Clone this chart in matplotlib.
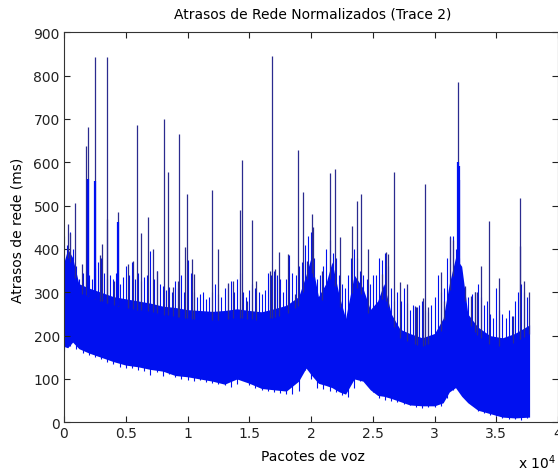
import numpy as np
import matplotlib.pyplot as plt

# envelope of the dense band: packet index, bottom and top (ms)
band_x = [0, 300, 700, 1200, 2000, 3000, 4000, 5000, 6000, 7000, 8000,
          9000, 10000, 11000, 12000, 13000, 14000, 15000, 16000, 17000,
          18000, 19000, 19600, 20000, 20600, 21200, 21700, 22300, 22800,
          23500, 24200, 24800, 25400, 25900, 26500, 27200, 28000, 29000,
          30000, 30700, 31200, 31700, 32200, 32700, 33500, 34500, 35500,
          36500, 37700]
band_lo = [175, 172, 185, 170, 160, 150, 140, 132, 128, 122, 118,
           108, 105, 100, 95, 88, 100, 90, 78, 75,
           72, 95, 125, 110, 90, 85, 80, 70, 65,
           100, 95, 75, 62, 60, 55, 48, 40, 38,
           38, 45, 70, 80, 60, 45, 28, 20, 12,
           10, 12]
band_hi = [370, 400, 380, 320, 310, 300, 290, 285, 280, 275, 268,
           265, 260, 258, 256, 258, 262, 258, 255, 262,
           270, 290, 340, 380, 290, 320, 370, 290, 240,
           340, 310, 260, 280, 320, 250, 215, 205, 195,
           205, 240, 320, 380, 360, 250, 220, 200, 195,
           205, 225]

# ragged top of the band, one value every 250 packets
top_x = np.arange(0, 37501, 250)
top_y = [430, 410, 440, 400, 360, 330, 345, 350, 340, 330, 355, 370,
         380, 345, 330, 340, 330, 345, 320, 335, 360, 340, 370, 330,
         345, 325, 335, 340, 395, 330, 350, 320, 315, 305, 312, 300,
         325, 310, 340, 300, 375, 345, 300, 290, 295, 300, 285, 290,
         300, 320, 295, 290, 310, 320, 325, 300, 330, 345, 300, 290,
         305, 320, 310, 300, 295, 305, 345, 340, 350, 340, 330, 300,
         330, 385, 345, 340, 360, 370, 410, 430, 440, 380, 330, 340,
         360, 400, 420, 390, 380, 340, 320, 310, 340, 380, 400, 380,
         350, 340, 330, 320, 340, 340, 380, 375, 390, 360, 310, 280,
         300, 280, 310, 275, 260, 270, 265, 270, 280, 260, 255, 270,
         290, 340, 300, 310, 380, 430, 430, 400, 380, 330, 310, 290,
         295, 300, 320, 290, 270, 280, 250, 240, 310, 260, 250, 240,
         260, 245, 280, 300, 320, 300, 290]

# ragged bottom of the band, one value every 500 packets
bot_x = np.arange(0, 37501, 500)
bot_y = [165, 175, 170, 160, 155, 150, 145, 140, 135, 128, 125,
         125, 120, 118, 110, 115, 108, 112, 105, 100, 98,
         95, 98, 92, 90, 88, 85, 82, 88, 110, 85,
         80, 75, 72, 70, 68, 65, 65, 72, 120, 100,
         80, 78, 72, 70, 62, 58, 80, 95, 88, 70,
         55, 52, 50, 48, 42, 40, 35, 33, 35, 35,
         38, 55, 75, 78, 55, 40, 25, 22, 18, 15,
         10, 8, 8, 6, 10]

# isolated delay spikes above the band
spike_x = [300, 490, 920, 1430, 1780, 1940, 2510, 2915, 3050,
           3450, 3480, 4050, 4345, 5210, 5615, 5940, 6210, 6775,
           7180, 7505, 8120, 8390, 8850, 9255, 9340, 9800, 9990, 10340,
           10500, 11960, 12500, 13300, 13710, 14250, 14410, 14790, 15250,
           15550, 16680, 16820, 17080, 17430, 18110, 18700, 18920, 19380,
           19700, 20110, 20160, 20860, 21510, 21970, 22350, 23350, 23720,
           24070, 24640, 25720, 26070, 26200, 26690, 27200, 27750, 28420,
           28600, 29090, 29230, 29500, 30530, 30800, 31250, 31520,
           31930, 32470, 32930, 33280, 33470, 33760, 34420, 35250,
           36380, 36920, 36960, 37270, 37620]
spike_y = [458, 438, 506, 365, 638, 682, 842, 385, 411,
           842, 470, 327, 485, 365, 373, 685, 438, 473,
           400, 350, 700, 577, 312, 327, 665, 404, 527, 377,
           342, 535, 400, 322, 327, 491, 605, 281, 466,
           327, 350, 845, 354, 393, 388, 296, 629, 531,
           373, 481, 450, 350, 575, 585, 427, 454, 511,
           527, 400, 342, 392, 388, 577, 323, 319, 269,
           265, 288, 550, 266, 346, 281, 427, 420,
           785, 315, 292, 300, 300, 361, 465, 334,
           246, 518, 408, 327, 300]

# short bursts where the trace stays high for a few packets
burst_x = [1960, 2540, 4380, 31880, 31960, 32020]
burst_y = [562, 558, 462, 600, 592, 560]

blue = '#0010f0'
navy = '#2b2b8f'

fig = plt.figure(figsize=(5.58, 4.77), dpi=100, facecolor='white')
ax = fig.add_axes([64 / 558, 53.7 / 477, 494 / 558, 390 / 477])

ax.fill_between(band_x, band_lo, band_hi, color=blue, linewidth=0)
hi_at_top = np.interp(top_x, band_x, band_hi) - 15
ax.vlines(top_x, hi_at_top, top_y, color=blue, linewidth=0.8)
lo_at_bot = np.interp(bot_x, band_x, band_lo) + 15
ax.vlines(bot_x, bot_y, lo_at_bot, color=blue, linewidth=0.8)
base = np.interp(spike_x, band_x, band_hi) - 20
ax.vlines(spike_x, base, spike_y, color=navy, linewidth=0.9)
burst_base = np.interp(burst_x, band_x, band_hi) - 20
ax.vlines(burst_x, burst_base, burst_y, color=blue, linewidth=1.6)

ax.set_xlim(0, 40000)
ax.set_ylim(0, 900)
ax.set_xticks(np.arange(0, 40001, 5000))
ax.set_xticklabels(['0', '0.5', '1', '1.5', '2', '2.5', '3', '3.5', '4'])
ax.set_yticks(np.arange(0, 901, 100))
ax.tick_params(direction='in', top=True, right=True, length=4, width=0.8,
               labelsize=10, colors='#222222', pad=3)
for s in ax.spines.values():
    s.set_color('#333333')
    s.set_linewidth(0.8)

fig.text(313 / 558, 1 - 15 / 477, 'Atrasos de Rede Normalizados (Trace 2)',
         ha='center', va='center', fontsize=10)
fig.text(313 / 558, 1 - 457 / 477, 'Pacotes de voz', ha='center',
         va='center', fontsize=10)
fig.text(18 / 558, 1 - 230 / 477, 'Atrasos de rede (ms)', ha='center',
         va='center', rotation=90, fontsize=10)
fig.text(556 / 558, 1 - 463 / 477, r'x 10$^{4}$', ha='right', va='center',
         fontsize=10)

fig.savefig('out.png', dpi=100)
